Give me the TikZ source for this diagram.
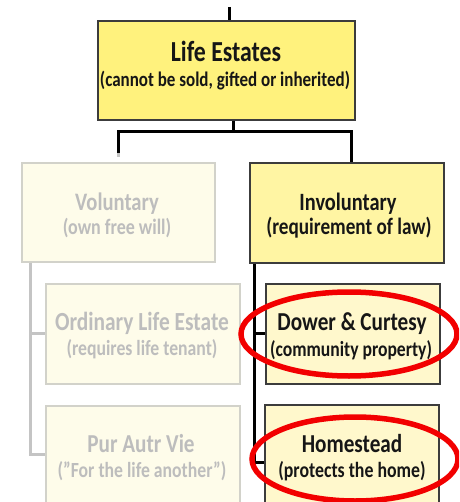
\documentclass[tikz,border=0pt]{standalone}
\usepackage{fontspec}
\usepackage{graphicx}
\setmainfont{Carlito}
\definecolor{hotfill}{HTML}{FFF27D}
\definecolor{midfill}{HTML}{FFF5A3}
\definecolor{softfill}{HTML}{FFF8CC}
\definecolor{palefill}{HTML}{FEFCEA}
\definecolor{liveline}{HTML}{3C3C3C}
\definecolor{paleline}{HTML}{D2D2CA}
\definecolor{paletext}{HTML}{BDBDBD}
\definecolor{inktext}{HTML}{161616}
\definecolor{ringred}{HTML}{F20000}
% text in this chart is set slightly tall
\newcommand{\tallset}[1]{\scalebox{1}[1.22]{#1}}
\begin{document}
\begin{tikzpicture}[x=1pt,y=-1pt,
  livebox/.style={draw=liveline, line width=1.6pt, anchor=north west, inner sep=0pt},
  palebox/.style={draw=paleline, fill=palefill, line width=1.6pt, anchor=north west, inner sep=0pt},
  sized/.style={anchor=base, inner sep=0pt, font=\bfseries\fontsize{#1}{#1}\selectfont},
  wire/.style={draw=black, line width=3pt},
  greywire/.style={draw=paletext!90!white, line width=3pt},
  ring/.style={draw=ringred, line width=5.5pt}]
\useasboundingbox (0,0) rectangle (459,502);
\clip (0,0) rectangle (459,502);

% boxes
\node[livebox, fill=hotfill, minimum width=257, minimum height=99] (life) at (97,20) {};
\node[palebox, minimum width=193, minimum height=99] (vol) at (21,162) {};
\node[livebox, fill=midfill, minimum width=194, minimum height=100] (invol) at (249,162) {};
\node[palebox, minimum width=194, minimum height=100] (ord) at (45,283) {};
\node[palebox, minimum width=194, minimum height=98] (pur) at (45,405) {};
\node[livebox, fill=softfill, minimum width=174, minimum height=100] (dower) at (265,283) {};
\node[livebox, fill=softfill, minimum width=174, minimum height=116] (home) at (264,404) {};

% connector points
\coordinate (topstub) at (229,7);
\coordinate (barmid) at (233,132);
\coordinate (barL) at (118,132);
\coordinate (barR) at (351,132);
\coordinate (volstub) at (118,153);
\coordinate (trunkL) at (30,0);
\coordinate (trunkR) at (254,0);

% connectors
\draw[wire] (topstub) -- (topstub |- life.north);
\draw[wire] (barmid |- life.south) -- (barmid);
\draw[wire, line cap=rect] (barL) -- (barR);
\draw[wire] (barR) -- (barR |- invol.north);
\draw[wire] (barL) -- (volstub);
\draw[greywire] (volstub) -- ++(0,4);
\draw[greywire] (vol.south -| trunkL) -- (pur.west -| trunkL) -- (pur.west);
\draw[greywire] (ord.west -| trunkL) -- (ord.west);
\draw[wire] (invol.south -| trunkR) -- (home.west -| trunkR) -- (home.west);
\draw[wire] (dower.west -| trunkR) -- (dower.west);

% labels
\node[sized=23.8, text=inktext] (lifeT) at (226,62) {\tallset{Life Estates}};
\node[sized=17, text=inktext] (lifeS) at (225,87) {\tallset{(cannot be sold, gifted or inherited)}};
\node[sized=20.6, text=paletext] (volT) at (117,211) {\tallset{Voluntary}};
\node[sized=18, text=paletext] (volS) at (117,234) {\tallset{(own free will)}};
\node[sized=20.4, text=inktext] (involT) at (348,211) {\tallset{Involuntary}};
\node[sized=19.2, text=inktext] (involS) at (349,234) {\tallset{(requirement of law)}};
\node[sized=21.4, text=paletext] (ordT) at (142,330) {\tallset{Ordinary Life Estate}};
\node[sized=17.7, text=paletext] (ordS) at (142,355) {\tallset{(requires life tenant)}};
\node[sized=21.2, text=paletext] (purT) at (141,452) {\tallset{Pur Autr Vie}};
\node[sized=17.7, text=paletext] (purS) at (142,477) {\tallset{(”For the life another”)}};
\node[sized=21.2, text=inktext] (dowerT) at (352,330) {\tallset{Dower \& Curtesy}};
\node[sized=17.6, text=inktext] (dowerS) at (351,356) {\tallset{(community property)}};
\node[sized=21.2, text=inktext] (homeT) at (352,452) {\tallset{Homestead}};
\node[sized=17.8, text=inktext] (homeS) at (352,477) {\tallset{(protects the home)}};

% highlight rings
\draw[ring] (349,334) ellipse [x radius=108, y radius=42];
\draw[ring] (355,459) ellipse [x radius=103, y radius=42];
\end{tikzpicture}
\end{document}
